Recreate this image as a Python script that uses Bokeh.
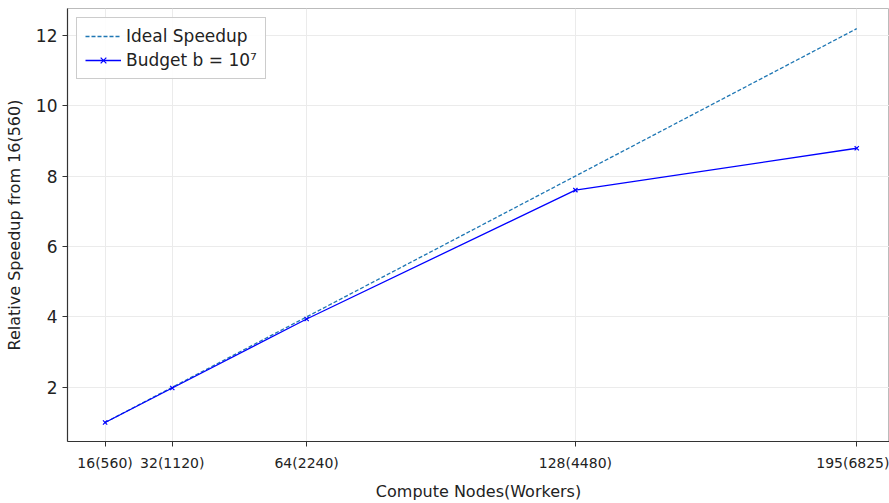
from bokeh.plotting import figure
from bokeh.embed import file_html
from bokeh.resources import INLINE
from bokeh.models import FixedTicker, Legend, LegendItem, Range1d

nodes = [16, 32, 64, 128, 195]
tick_labels = ["16(560)", "32(1120)", "64(2240)", "128(4480)", "195(6825)"]
ideal = [1.0, 2.0, 4.0, 8.0, 12.1875]
budget = [1.0, 1.98, 3.94, 7.6, 8.79]

FONT = "DejaVu Sans"

p = figure(width=889, height=503, output_backend="svg", toolbar_location=None,
           x_range=Range1d(7.05, 202.8), y_range=Range1d(0.46, 12.76),
           min_border_left=67, min_border_right=0, min_border_top=8, min_border_bottom=61)

r1 = p.line(nodes, ideal, line_color="#1f77b4", line_dash="4 2", line_width=1.3)
r2 = p.line(nodes, budget, line_color="blue", line_width=1.3)
r3 = p.scatter(nodes, budget, marker="x", size=6, line_color="blue", line_width=1.2)

p.xaxis.ticker = FixedTicker(ticks=nodes)
p.xaxis.major_label_overrides = {n: l for n, l in zip(nodes, tick_labels)}
p.yaxis.ticker = FixedTicker(ticks=[2, 4, 6, 8, 10, 12])

for ax in (p.xaxis[0], p.yaxis[0]):
    ax.axis_line_color = "#333333"
    ax.axis_line_width = 1.2
    ax.major_tick_line_color = "#333333"
    ax.major_tick_out = 5
    ax.major_tick_in = 0
    ax.minor_tick_line_color = None
    ax.major_label_text_font = FONT
    ax.axis_label_text_font = FONT
    ax.axis_label_text_font_style = "normal"
    ax.axis_label_text_font_size = "16px"
    ax.axis_label_text_color = "#222222"
    ax.major_label_text_color = "#222222"

p.xaxis.major_label_text_font_size = "14px"
p.yaxis.major_label_text_font_size = "17px"
p.xaxis.major_label_standoff = 8
p.yaxis.major_label_standoff = 5
p.xaxis.axis_label = "Compute Nodes(Workers)"
p.yaxis.axis_label = "Relative Speedup from 16(560)"
p.xaxis.axis_label_standoff = 8
p.yaxis.axis_label_standoff = 9

p.xgrid.grid_line_color = "#ebebeb"
p.ygrid.grid_line_color = "#ebebeb"
p.outline_line_color = "#bbbbbb"
p.background_fill_color = "white"

legend = Legend(items=[
    LegendItem(label="Ideal Speedup", renderers=[r1]),
    LegendItem(label="Budget b = 10⁷", renderers=[r2, r3]),
], location="top_left")
legend.label_text_font = FONT
legend.label_text_font_size = "17px"
legend.label_text_color = "#222222"
legend.glyph_width = 36
legend.spacing = 4
legend.padding = 8
legend.margin = 9
legend.border_line_color = "#cccccc"
legend.border_line_alpha = 1
legend.background_fill_alpha = 0.9
p.add_layout(legend)

open("out.html", "w").write(file_html(p, INLINE))
